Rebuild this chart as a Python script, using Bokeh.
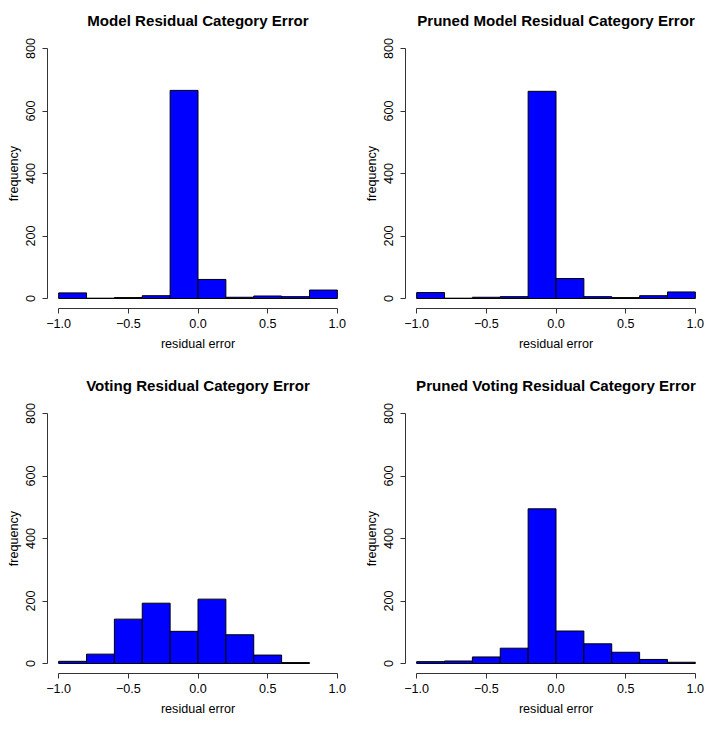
from bokeh.plotting import figure
from bokeh.layouts import column, row
from bokeh.models import FixedTicker, Range1d
from bokeh.embed import file_html
from bokeh.resources import INLINE

# ---- data ----
bin_edges = [-1.0, -0.8, -0.6, -0.4, -0.2, 0.0, 0.2, 0.4, 0.6, 0.8, 1.0]
model_counts = [18, 1, 3, 9, 666, 61, 4, 8, 6, 27]
pruned_model_counts = [19, 1, 4, 6, 663, 64, 6, 3, 9, 21]
voting_counts = [7, 30, 142, 193, 103, 206, 92, 27, 3]
pruned_voting_counts = [6, 8, 21, 49, 495, 104, 63, 36, 13, 4]

titles = ["Model Residual Category Error",
          "Pruned Model Residual Category Error",
          "Voting Residual Category Error",
          "Pruned Voting Residual Category Error"]
x_ticks = [-1.0, -0.5, 0.0, 0.5, 1.0]
x_tick_labels = ["\u22121.0", "\u22120.5", "0.0", "0.5", "1.0"]
y_ticks = [0, 200, 400, 600, 800]
y_tick_labels = ["0", "200", "400", "600", "800"]
x_label = "residual error"
y_label = "frequency"

FONT = "Liberation Sans"
TICK_SIZE = "12.6px"
TITLE_SIZE = "15.1px"


def make(title, counts, W, H, bl, br, bt, bb):
    p = figure(width=W, height=H, output_backend="svg", toolbar_location=None,
               x_range=Range1d(-1.08, 1.08), y_range=Range1d(-32, 832),
               min_border_left=bl, min_border_right=br,
               min_border_top=bt, min_border_bottom=bb)
    p.outline_line_color = None
    p.grid.visible = False
    p.background_fill_color = "white"
    p.border_fill_color = "white"

    n = len(counts)
    p.quad(left=bin_edges[:n], right=bin_edges[1:n + 1], bottom=0, top=counts,
           fill_color="#0000FF", line_color="black", line_width=1)

    p.title.text = title
    p.title.align = "center"
    p.title.text_font = FONT
    p.title.text_font_size = TITLE_SIZE
    p.title.text_font_style = "bold"
    p.title.text_color = "black"
    p.title.standoff = 19

    xa = p.xaxis[0]
    xa.ticker = FixedTicker(ticks=x_ticks)
    xa.major_label_overrides = dict(zip(x_ticks, x_tick_labels))
    xa.bounds = (-1.0, 1.0)
    ya = p.yaxis[0]
    ya.ticker = FixedTicker(ticks=y_ticks)
    ya.major_label_overrides = dict(zip(y_ticks, y_tick_labels))
    ya.bounds = (0, 800)
    ya.major_label_orientation = "vertical"

    xa.axis_label = x_label
    ya.axis_label = y_label
    for ax in (xa, ya):
        ax.axis_line_color = "#333333"
        ax.axis_line_width = 1
        ax.major_tick_line_color = "#333333"
        ax.major_tick_in = 0
        ax.major_tick_out = 5
        ax.minor_tick_line_color = None
        ax.major_label_text_font = FONT
        ax.major_label_text_font_size = TICK_SIZE
        ax.major_label_text_color = "black"
        ax.axis_label_text_font = FONT
        ax.axis_label_text_font_size = TICK_SIZE
        ax.axis_label_text_font_style = "normal"
        ax.axis_label_text_color = "black"
    xa.major_label_standoff = 5
    xa.axis_label_standoff = 6
    ya.major_label_standoff = 8
    ya.axis_label_standoff = 2
    return p


f1 = make(titles[0], model_counts, 356, 358, 47, 8, 38, 50)
f2 = make(titles[1], pruned_model_counts, 350, 358, 49, 0, 38, 50)
f3 = make(titles[2], voting_counts, 356, 360, 47, 8, 45, 45)
f4 = make(titles[3], pruned_voting_counts, 350, 360, 49, 0, 45, 45)

layout = column(row(f1, f2), row(f3, f4))
open("out.html", "w").write(file_html(layout, INLINE))
